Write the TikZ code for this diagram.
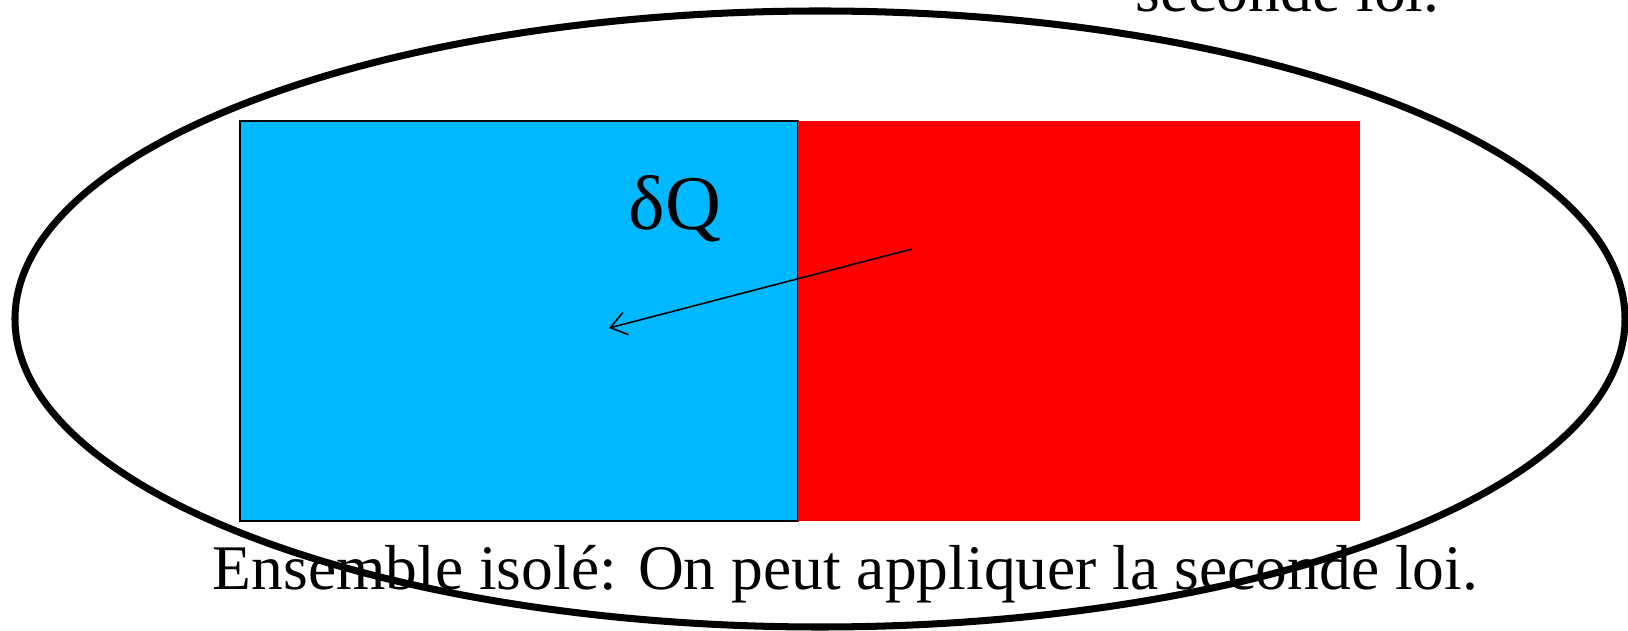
\documentclass[tikz,border=0pt]{standalone}
\usepackage{fontspec}
\setmainfont{Liberation Serif}
\usetikzlibrary{arrows.meta}

\definecolor{coldblue}{RGB}{0,184,255}
\definecolor{hotred}{RGB}{255,0,0}

\begin{document}
\begin{tikzpicture}[x=0.01cm,y=-0.01cm]
  \useasboundingbox (0,0) rectangle (1628,631);

  % cold body (left) and hot body (right)
  \fill[coldblue] (240,121) rectangle (798,521);
  \draw[line width=0.45pt] (240,121) rectangle (798,521);
  \fill[hotred] (798,121) rectangle (1360,521);

  % heat flow
  \coordinate (hot) at (912,249);
  \coordinate (cold) at (609,328);
  \draw[line width=0.45pt,-{Straight Barb[length=4.5pt,width=6.5pt]}] (hot) -- (cold);
  \node[anchor=base west,inner sep=0pt,font=\fontsize{22}{26}\selectfont] (dq) at (628,230) {δQ};

  % isolated whole
  \draw[line width=2pt] (820,319) ellipse [x radius=805, y radius=308];

  % captions
  \node[anchor=base west,inner sep=0pt,font=\fontsize{18.07}{22}\selectfont] (law) at (212,589) {Ensemble isolé: On peut appliquer la seconde loi.};
  \node[anchor=base east,inner sep=0pt,font=\fontsize{18.07}{22}\selectfont] (lawtop) at (1440,12) {seconde loi.};
\end{tikzpicture}
\end{document}
